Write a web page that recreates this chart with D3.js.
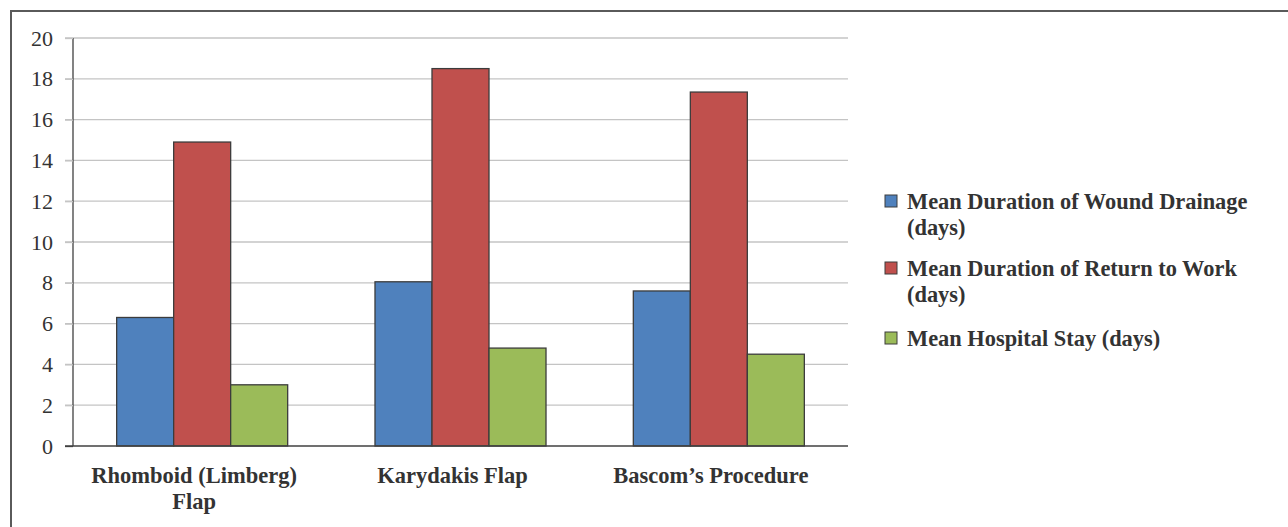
<!DOCTYPE html>
<html><head><meta charset="utf-8">
<script src="https://cdn.jsdelivr.net/npm/d3@7"></script>
<style>body{margin:0;background:#fff}svg{display:block}</style>
</head><body>
<script>
const categories = [["Rhomboid (Limberg)", "Flap"], ["Karydakis Flap"], ["Bascom’s Procedure"]];
const seriesNames = [["Mean Duration of Wound Drainage", "(days)"], ["Mean Duration of Return to Work", "(days)"], ["Mean Hospital Stay (days)"]];
const woundDrainage = [6.3, 8.05, 7.6];
const returnToWork = [14.9, 18.5, 17.35];
const hospitalStay = [3.0, 4.8, 4.5];
const yTicks = [0, 2, 4, 6, 8, 10, 12, 14, 16, 18, 20];
const colors = ["#4F81BD", "#C0504D", "#9BBB59"];

(function () {
const FONT = "'Liberation Serif', 'Times New Roman', serif";
const series = [woundDrainage, returnToWork, hospitalStay];
const W = 1288, H = 527;
const svg = d3.select("body").append("svg").attr("width", W).attr("height", H);
svg.append("rect").attr("x", 11).attr("y", 11).attr("width", W + 10).attr("height", H + 10)
  .attr("fill", "none").attr("stroke", "#5a5a5a").attr("stroke-width", 2);

const pLeft = 73, pRight = 848, pTop = 38, pBottom = 446;
const x0 = d3.scaleBand().domain(d3.range(categories.length)).range([pLeft, pRight]).paddingInner(0.338).paddingOuter(0.169);
const x1 = d3.scaleBand().domain(d3.range(series.length)).range([0, x0.bandwidth()]);
const y = d3.scaleLinear().domain([0, 20]).range([pBottom, pTop]);

svg.append("g").selectAll("line").data(yTicks.filter(d => d > 0)).join("line")
  .attr("x1", pLeft - 8).attr("x2", pRight).attr("y1", d => y(d)).attr("y2", d => y(d))
  .attr("stroke", "#c4c4c4").attr("stroke-width", 1.3);

const yAxis = d3.axisLeft(y).tickValues(yTicks).tickSize(8).tickPadding(12);
const ga = svg.append("g").attr("transform", `translate(${pLeft},0)`).call(yAxis);
ga.select(".domain").attr("stroke", "#404040").attr("stroke-width", 1.3).attr("d", `M0,${pTop}V${pBottom}`);
ga.selectAll(".tick line").attr("stroke", "#c4c4c4").attr("stroke-width", 1.3);
ga.selectAll(".tick").filter(d => d === 0).select("line").attr("stroke", "#404040");
ga.selectAll("text").attr("font-family", FONT).attr("font-size", 22).attr("fill", "#333");

const groups = svg.append("g").selectAll("g").data(categories).join("g")
  .attr("transform", (d, i) => `translate(${x0(i)},0)`);
groups.selectAll("rect").data((d, i) => series.map((s, j) => ({ j, v: s[i] }))).join("rect")
  .attr("x", d => x1(d.j)).attr("width", x1.bandwidth())
  .attr("y", d => y(d.v)).attr("height", d => y(0) - y(d.v))
  .attr("fill", d => colors[d.j]).attr("stroke", "#3c3c3c").attr("stroke-width", 1.3);

svg.append("line").attr("x1", pLeft - 8).attr("x2", pRight).attr("y1", pBottom).attr("y2", pBottom)
  .attr("stroke", "#404040").attr("stroke-width", 1.3);

categories.forEach((lines, i) => {
  const cx = x0(i) + x0.bandwidth() / 2 - 8;
  const t = svg.append("text").attr("x", cx).attr("y", 483)
    .attr("text-anchor", "middle").attr("font-family", FONT).attr("font-weight", "bold")
    .attr("font-size", 22.5).attr("fill", "#333");
  lines.forEach((l, k) => t.append("tspan").attr("x", cx).attr("dy", k ? 26 : 0).text(l));
});

const legY = [201, 268, 338];
seriesNames.forEach((lines, i) => {
  const g = svg.append("g").attr("transform", `translate(885,${legY[i]})`);
  g.append("rect").attr("x", 0).attr("y", -6).attr("width", 12).attr("height", 12)
    .attr("fill", colors[i]).attr("stroke", "#3c3c3c").attr("stroke-width", 1);
  const t = g.append("text").attr("x", 22).attr("y", 7.5).attr("font-family", FONT)
    .attr("font-weight", "bold").attr("font-size", 22.4).attr("fill", "#333");
  lines.forEach((l, k) => t.append("tspan").attr("x", 22).attr("dy", k ? 26 : 0).text(l));
});
})();
</script>
</body></html>
